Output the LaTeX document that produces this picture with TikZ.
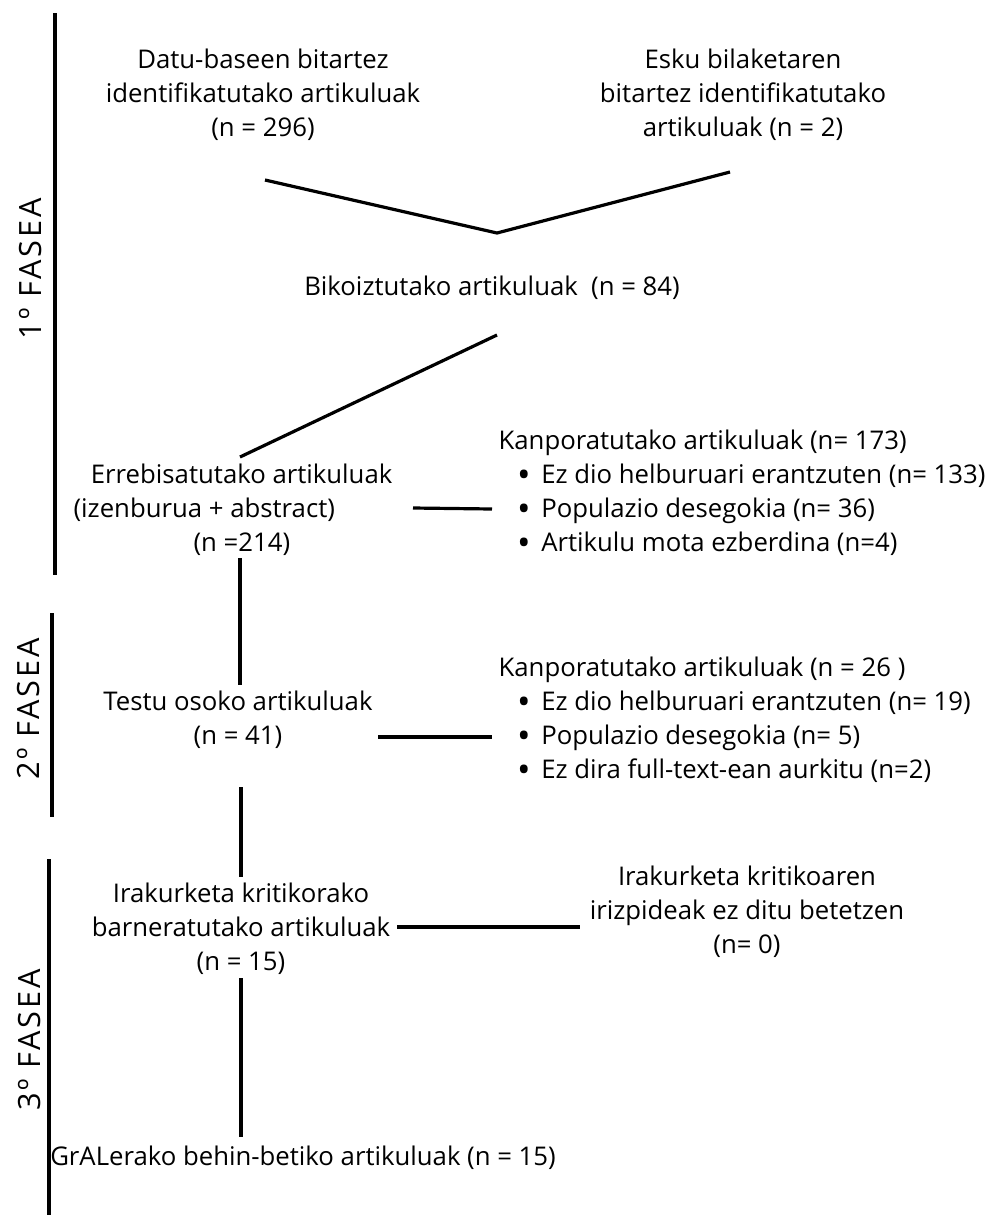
\documentclass[tikz,border=0pt]{standalone}
\usepackage{fontspec}
\setmainfont{Open Sans}
\newfontfamily\fasefont[LetterSpace=9]{Open Sans}
\newcommand{\itm}{\makebox[32pt][r]{\raisebox{-2.6pt}{\fontsize{27pt}{0pt}\selectfont\textbullet}\hspace{8pt}}}

\begin{document}
\begin{tikzpicture}[x=0.75pt,y=-0.75pt,line width=2.4pt,
  txt/.style={inner sep=0pt,align=center,font=\fontsize{19.3pt}{25.5pt}\selectfont},
  lst/.style={txt,align=left,anchor=west},
  fase/.style={inner sep=0pt,rotate=90,font=\fontsize{23pt}{25pt}\fasefont}]
\useasboundingbox (0,0) rectangle (987,1215);

% phase bars
\draw (55,13) -- (55,575);
\draw (52,613) -- (52,817);
\draw (49,859) -- (49,1215);

\node[fase] (fase1) at (31,269) {1º FASEA};
\node[fase] (fase2) at (29,709) {2º FASEA};
\node[fase] (fase3) at (30,1040) {3º FASEA};

% 1. fasea
\node[txt] (datu) at (263,95) {Datu-baseen bitartez\\identifikatutako artikuluak\\(n = 296)};
\node[txt] (esku) at (743,95) {Esku bilaketaren\\bitartez identifikatutako\\artikuluak (n = 2)};
\coordinate (split) at (497,233);
\node[txt] (biko) at (492,288) {Bikoiztutako artikuluak\hspace{10pt}(n = 84)};
\node[lst] (erreb) at (72,510) {\hspace*{13pt}Errebisatutako artikuluak\\(izenburua + abstract)\\\hspace*{90pt}(n =214)};
\node[lst] (kanpo1) at (497,493) {Kanporatutako artikuluak (n= 173)\\
  \itm Ez dio helburuari erantzuten (n= 133)\\
  \itm Populazio desegokia (n= 36)\\
  \itm Artikulu mota ezberdina (n=4)};

\draw ([shift={(2,85)}]datu.center) -- (split) -- ([shift={(-13,77)}]esku.center);
\draw ([shift={(5,47)}]biko.center) -- ([shift={(168,-53)}]erreb.west);
\draw ([shift={(341,-2)}]erreb.west) -- ([shift={(-5,16)}]kanpo1.west);

% 2. fasea
\node[txt] (testu) at (238,720) {Testu osoko artikuluak\\(n = 41)};
\node[lst] (kanpo2) at (497,720) {Kanporatutako artikuluak (n = 26 )\\
  \itm Ez dio helburuari erantzuten (n= 19)\\
  \itm Populazio desegokia (n= 5)\\
  \itm Ez dira full-text-ean aurkitu (n=2)};

\draw ([shift={(168,48)}]erreb.west) -- ([shift={(2,-35)}]testu.center);
\draw ([shift={(140,17)}]testu.center) -- ([shift={(-5,17)}]kanpo2.west);

% 3. fasea
\node[txt] (irak) at (241,929) {Irakurketa kritikorako\\barneratutako artikuluak\\(n = 15)};
\node[txt] (irizp) at (747,912) {Irakurketa kritikoaren\\irizpideak ez ditu betetzen\\(n= 0)};
\node[txt] (gral) at (303,1158) {GrALerako behin-betiko artikuluak (n = 15)};

\draw ([shift={(3,67)}]testu.center) -- ([shift={(0,-52)}]irak.center);
\draw ([shift={(156,-2)}]irak.center) -- ([shift={(-167,15)}]irizp.center);
\draw ([shift={(0,49)}]irak.center) -- ([shift={(-62,-21)}]gral.center);

\end{tikzpicture}
\end{document}
